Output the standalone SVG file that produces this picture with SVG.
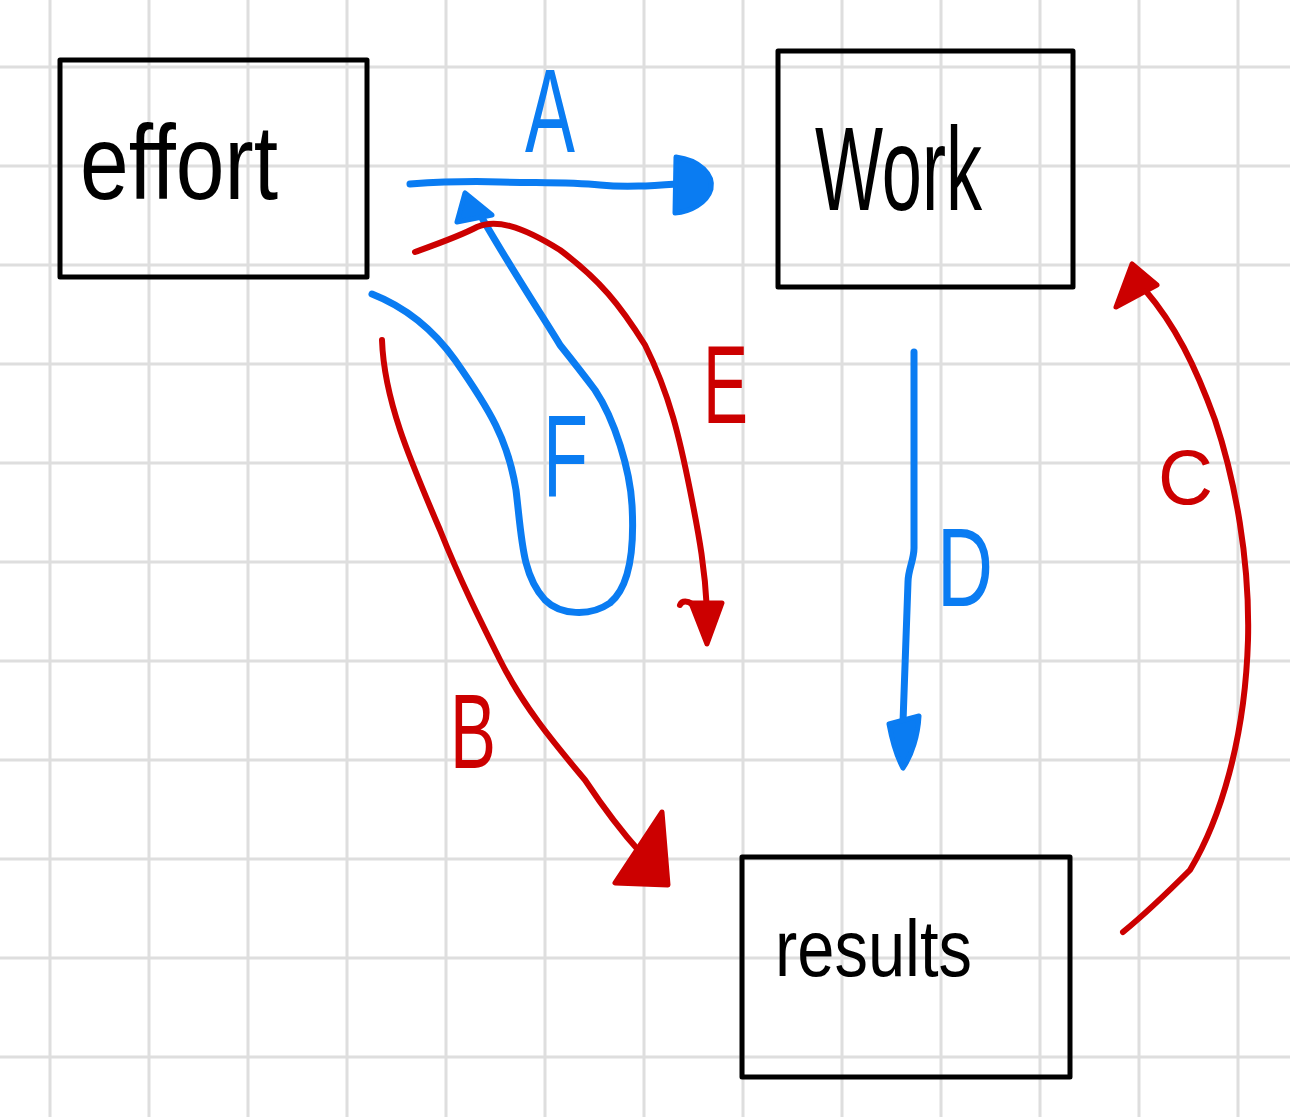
<svg xmlns="http://www.w3.org/2000/svg" width="1290" height="1117" viewBox="0 0 1290 1117">
<style>
.grid line{stroke:#dedede;stroke-width:3}
.box{fill:none;stroke:#000;stroke-width:5;stroke-linejoin:round}
.nt{font-family:"Liberation Sans","DejaVu Sans",sans-serif;fill:#000}
.blue{stroke:#0a7cf2;fill:none;stroke-width:7;stroke-linecap:round;stroke-linejoin:round}
.red{stroke:#cc0000;fill:none;stroke-width:6;stroke-linecap:round;stroke-linejoin:round}
.bh{fill:#0a7cf2;stroke:#0a7cf2;stroke-width:5;stroke-linejoin:round}
.rh{fill:#cc0000;stroke:#cc0000;stroke-width:5;stroke-linejoin:round}
.lb{font-family:"Liberation Sans","DejaVu Sans",sans-serif;fill:#0a7cf2}
.lr{font-family:"Liberation Sans","DejaVu Sans",sans-serif;fill:#cc0000}
</style>
<rect width="1290" height="1117" fill="#fff"/>
<g class="grid">
<line x1="50" y1="0" x2="50" y2="1117"/><line x1="149" y1="0" x2="149" y2="1117"/><line x1="248" y1="0" x2="248" y2="1117"/><line x1="347" y1="0" x2="347" y2="1117"/><line x1="446" y1="0" x2="446" y2="1117"/><line x1="545" y1="0" x2="545" y2="1117"/><line x1="644" y1="0" x2="644" y2="1117"/><line x1="743" y1="0" x2="743" y2="1117"/><line x1="842" y1="0" x2="842" y2="1117"/><line x1="941" y1="0" x2="941" y2="1117"/><line x1="1040" y1="0" x2="1040" y2="1117"/><line x1="1139" y1="0" x2="1139" y2="1117"/><line x1="1238" y1="0" x2="1238" y2="1117"/>
<line x1="0" y1="67" x2="1290" y2="67"/><line x1="0" y1="166" x2="1290" y2="166"/><line x1="0" y1="265" x2="1290" y2="265"/><line x1="0" y1="364" x2="1290" y2="364"/><line x1="0" y1="463" x2="1290" y2="463"/><line x1="0" y1="562" x2="1290" y2="562"/><line x1="0" y1="661" x2="1290" y2="661"/><line x1="0" y1="760" x2="1290" y2="760"/><line x1="0" y1="859" x2="1290" y2="859"/><line x1="0" y1="958" x2="1290" y2="958"/><line x1="0" y1="1057" x2="1290" y2="1057"/>
</g>
<g id="effort">
<rect class="box" x="60" y="60" width="307" height="217"/>
<text class="nt" x="80" y="199" font-size="105" textLength="198" lengthAdjust="spacingAndGlyphs">effort</text>
</g>
<g id="work">
<rect class="box" x="778" y="51" width="295" height="236"/>
<text class="nt" x="815" y="210" font-size="118" textLength="167" lengthAdjust="spacingAndGlyphs">Work</text>
</g>
<g id="results">
<rect class="box" x="742" y="857" width="328" height="220"/>
<text class="nt" x="775" y="976" font-size="80" textLength="197" lengthAdjust="spacingAndGlyphs">results</text>
</g>
<g id="connectors">
<g id="edge-A">
<path class="blue" d="M410,184 C440,182 470,181 500,182 C540,183 570,182 600,185 C630,188 660,185 690,183"/>
<path class="bh" d="M676,157 C700,160 714,175 711,189 C707,203 690,212 675,213 Z"/>
<text class="lb" x="525" y="152" font-size="118" textLength="50" lengthAdjust="spacingAndGlyphs">A</text>
</g>
<g id="edge-F">
<path class="blue" d="M372,294 C400,305 430,325 455,360 C490,410 508,440 516,490 C522,540 522,575 545,600 C560,615 590,617 610,603 C632,585 634,540 632,505 C630,470 615,420 595,390 C580,370 568,355 560,345 C545,320 515,275 482,218"/>
<path class="bh" d="M465,193 L457,222 L492,215 Z"/>
<text class="lb" x="543" y="497" font-size="117" textLength="45" lengthAdjust="spacingAndGlyphs">F</text>
</g>
<g id="edge-E">
<path class="red" d="M415,252 C440,243 460,236 477,227 C495,219 520,225 560,250 C600,280 620,305 645,345 C670,395 680,440 690,490 C700,540 705,570 707,610"/>
<path class="rh" d="M691,603 L722,603 L707,644 Z"/>
<path class="red" d="M680,605 C682,600 688,601 692,604"/>
<text class="lr" x="703" y="423" font-size="112" textLength="45" lengthAdjust="spacingAndGlyphs">E</text>
</g>
<g id="edge-B">
<path class="red" d="M382,340 C384,400 410,460 440,530 C460,580 480,620 500,660 C525,710 560,750 585,780 C605,810 620,830 640,852"/>
<path class="rh" d="M662,812 L615,883 L668,885 Z"/>
<text class="lr" x="450" y="768" font-size="105" textLength="46" lengthAdjust="spacingAndGlyphs">B</text>
</g>
<g id="edge-D">
<path class="blue" d="M914,352 L914,548 C914,560 908,570 908,582 L903,722"/>
<path class="bh" d="M889,724 L919,716 C918,735 912,755 903,768 C896,755 892,740 889,724 Z"/>
<text class="lb" x="937" y="606" font-size="112" textLength="56" lengthAdjust="spacingAndGlyphs">D</text>
</g>
<g id="edge-C">
<path class="red" d="M1123,932 C1150,910 1175,885 1190,870 C1220,820 1245,740 1248,640 C1250,560 1235,480 1215,420 C1195,365 1175,325 1145,290"/>
<path class="rh" d="M1132,264 L1116,307 L1157,285 Z"/>
<text class="lr" x="1158" y="504" font-size="77" textLength="55" lengthAdjust="spacingAndGlyphs">C</text>
</g>
</g>
</svg>
